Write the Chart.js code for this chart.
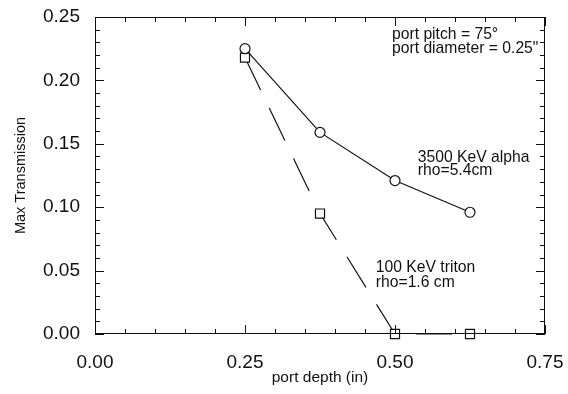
<!DOCTYPE html>
<html>
<head>
<meta charset="utf-8">
<script src="https://cdn.jsdelivr.net/npm/chart.js@4/dist/chart.umd.min.js"></script>
<style>
  html, body { margin: 0; padding: 0; background: #fff; }
  #wrap { width: 568px; height: 394px; }
</style>
</head>
<body>
<div id="wrap"><canvas id="chart" width="568" height="394"></canvas></div>
<script>
const depths = [0.25, 0.375, 0.5, 0.625];
const alphaValues = [0.225, 0.159, 0.121, 0.096];
const tritonValues = [0.218, 0.095, 0.0, 0.0];
const xTicks = [0, 0.25, 0.5, 0.75];
const yTicks = [0, 0.05, 0.1, 0.15, 0.2, 0.25];

const ink = "#111";
const fontFamily = "'Liberation Sans', Arial, Helvetica, sans-serif";

// text notes placed in data coordinates (x, baseline y)
const notes = [
    { text: "port pitch = 75\u00b0", x: 0.495, y: 0.2326 },
    { text: "port diameter = 0.25\"", x: 0.495, y: 0.2216 },
    { text: "3500 KeV alpha", x: 0.538, y: 0.1356 },
    { text: "rho=5.4cm", x: 0.538, y: 0.1254 },
    { text: "100 KeV triton", x: 0.468, y: 0.0489 },
    { text: "rho=1.6 cm", x: 0.468, y: 0.0371 }
];

// frame, inward tick marks and notes
const framePlugin = {
    id: "frame",
    afterDatasetsDraw(chart) {
        const ctx = chart.ctx;
        const a = chart.chartArea;
        const xs = chart.scales.x;
        const ys = chart.scales.y;
        ctx.save();
        ctx.strokeStyle = ink;
        ctx.lineWidth = 1;
        ctx.strokeRect(a.left + 0.5, a.top + 0.5, a.right - a.left - 1, a.bottom - a.top - 1);

        ctx.beginPath();
        for (let i = 0; i <= 15; i++) {
            const v = i * 0.05;
            const px = Math.round(xs.getPixelForValue(v)) + 0.5;
            const len = (i % 5 === 0) ? 9 : 5;
            ctx.moveTo(px, a.bottom);
            ctx.lineTo(px, a.bottom - len);
            ctx.moveTo(px, a.top);
            ctx.lineTo(px, a.top + len);
        }
        for (let i = 0; i <= 25; i++) {
            const v = i * 0.01;
            const py = Math.round(ys.getPixelForValue(v)) + 0.5;
            const len = (i % 5 === 0) ? 9 : 5;
            ctx.moveTo(a.left, py);
            ctx.lineTo(a.left + len, py);
            ctx.moveTo(a.right, py);
            ctx.lineTo(a.right - len, py);
        }
        ctx.stroke();

        ctx.fillStyle = ink;
        ctx.font = "15.7px " + fontFamily;
        ctx.textAlign = "left";
        ctx.textBaseline = "alphabetic";
        notes.forEach(n => {
            ctx.fillText(n.text, xs.getPixelForValue(n.x), ys.getPixelForValue(n.y));
        });
        ctx.restore();
    }
};

new Chart(document.getElementById("chart"), {
    type: "scatter",
    data: {
        datasets: [
            {
                label: "3500 KeV alpha",
                data: depths.map((d, i) => ({ x: d, y: alphaValues[i] })),
                showLine: true,
                borderColor: ink,
                borderWidth: 1.2,
                pointStyle: "circle",
                pointRadius: 5,
                pointBorderWidth: 1.2,
                pointBorderColor: ink,
                pointBackgroundColor: "#fff",
                clip: false
            },
            {
                label: "100 KeV triton",
                data: depths.map((d, i) => ({ x: d, y: tritonValues[i] })),
                showLine: true,
                borderColor: ink,
                borderWidth: 1.2,
                borderDash: [36, 20],
                pointStyle: "rect",
                pointRadius: 6.4,
                pointBorderWidth: 1.2,
                pointBorderColor: ink,
                pointBackgroundColor: "#fff",
                clip: false
            }
        ]
    },
    options: {
        responsive: false,
        animation: false,
        layout: { padding: { top: 17, right: 23, left: 0, bottom: 0 } },
        plugins: {
            legend: { display: false },
            tooltip: { enabled: false }
        },
        scales: {
            x: {
                type: "linear",
                min: 0,
                max: 0.75,
                afterBuildTicks(scale) { scale.ticks = xTicks.map(v => ({ value: v })); },
                afterFit(scale) {
                    scale.height = 60;
                    scale.paddingLeft = 0;
                    scale.paddingRight = 0;
                },
                grid: { display: false, drawTicks: false },
                border: { display: false },
                ticks: {
                    padding: 17,
                    color: ink,
                    font: { family: fontFamily, size: 19 },
                    callback: v => v.toFixed(2)
                },
                title: {
                    display: true,
                    text: "port depth (in)",
                    color: ink,
                    font: { family: fontFamily, size: 15.5 },
                    padding: { top: 0, bottom: 7 }
                }
            },
            y: {
                type: "linear",
                min: 0,
                max: 0.25,
                afterBuildTicks(scale) { scale.ticks = yTicks.map(v => ({ value: v })); },
                afterFit(scale) {
                    scale.width = 95;
                    scale.paddingTop = 0;
                    scale.paddingBottom = 0;
                },
                grid: { display: false, drawTicks: false },
                border: { display: false },
                ticks: {
                    padding: 15,
                    color: ink,
                    font: { family: fontFamily, size: 19 },
                    callback: v => v.toFixed(2)
                },
                title: {
                    display: true,
                    text: "Max Transmission",
                    color: ink,
                    font: { family: fontFamily, size: 14.5 },
                    padding: { top: 12, bottom: 0 }
                }
            }
        }
    },
    plugins: [framePlugin]
});
</script>
</body>
</html>
